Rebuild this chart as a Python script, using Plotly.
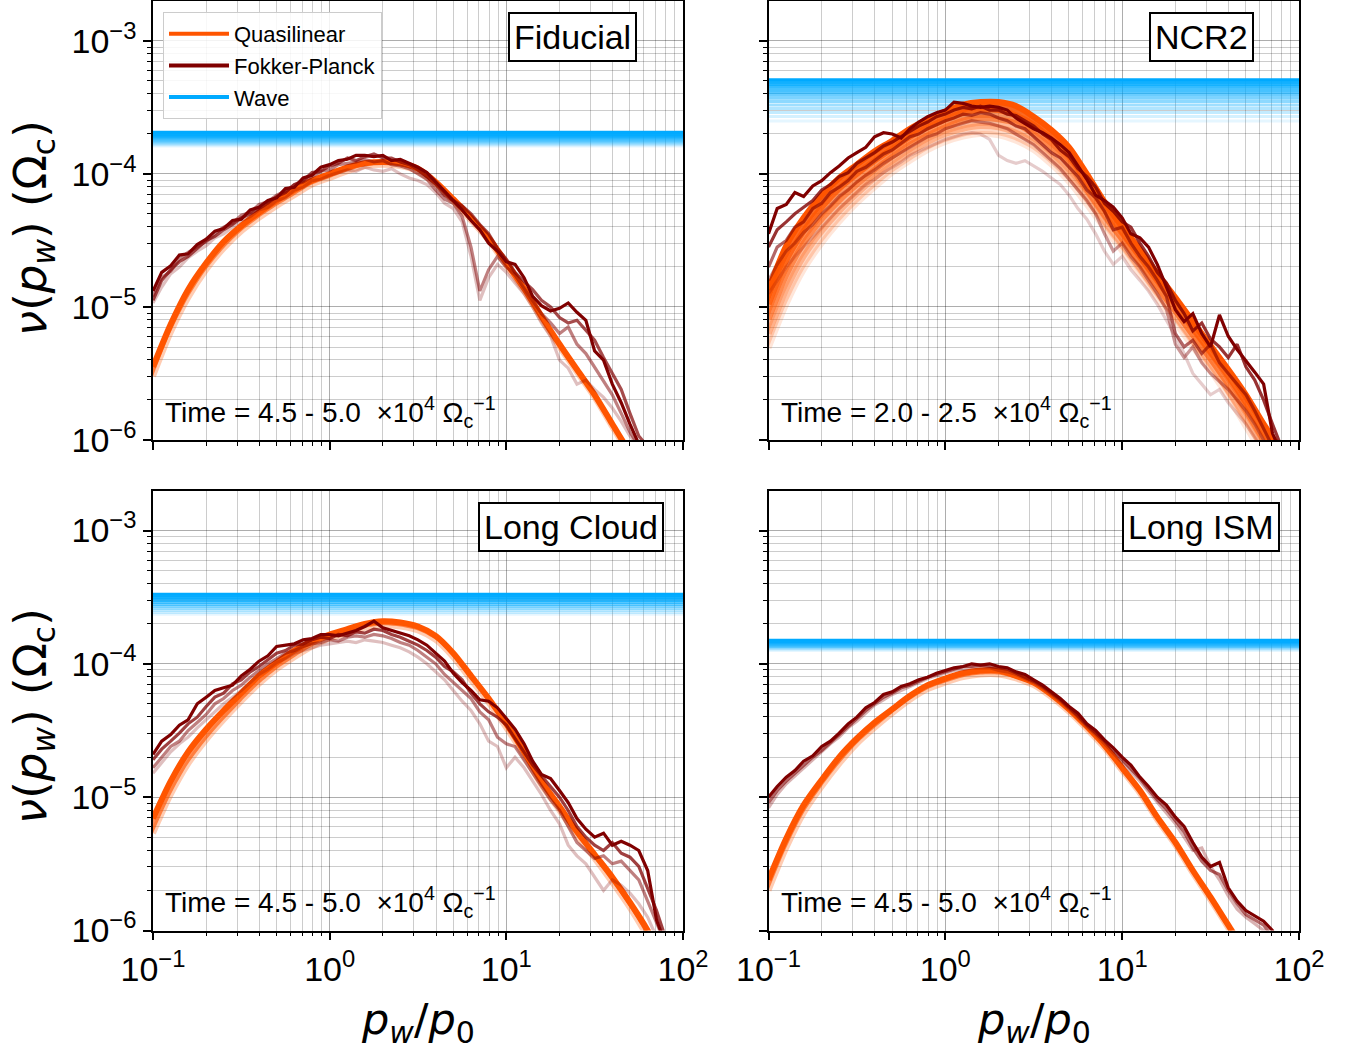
import plotly.graph_objects as go
from plotly.subplots import make_subplots

# ---------------- DATA ----------------
# momentum grids p_w / p_0
pw_ql = [0.1, 0.126, 0.158, 0.2, 0.251, 0.316, 0.398, 0.501, 0.631, 0.794,
         1.0, 1.26, 1.58, 2.0, 2.51, 3.16, 3.98, 5.01, 6.31, 7.94,
         10.0, 12.6, 15.8, 20.0, 25.1, 31.6, 39.8, 50.1, 63.1, 79.4, 100.0]
pw_fp = [0.1, 0.112, 0.126, 0.141, 0.158, 0.178, 0.2, 0.224, 0.251, 0.282,
         0.316, 0.355, 0.398, 0.447, 0.501, 0.562, 0.631, 0.708, 0.794, 0.891,
         1.0, 1.12, 1.26, 1.41, 1.58, 1.78, 2.0, 2.24, 2.51, 2.82,
         3.16, 3.55, 3.98, 4.47, 5.01, 5.62, 6.31, 7.08, 7.94, 8.91,
         10.0, 11.2, 12.6, 14.1, 15.8, 17.8, 20.0, 22.4, 25.1, 28.2,
         31.6, 35.5, 39.8, 44.7, 50.1, 56.2, 63.1, 70.8, 79.4, 89.1, 100.0]

# all curves: log10( nu / Omega_c )
# Quasilinear families, ordered lightest -> darkest
fid_ql = [
    [-5.52, -5.19, -4.93, -4.72, -4.56, -4.43, -4.33, -4.24, -4.16, -4.08, -4.03, -3.98, -3.94, -3.93, -3.94, -3.98,
     -4.08, -4.21, -4.35, -4.50, -4.69, -4.88, -5.09, -5.30, -5.49, -5.68, -5.90, -6.12, -6.37, -6.62, -6.87],
    [-5.45, -5.13, -4.87, -4.67, -4.51, -4.39, -4.29, -4.20, -4.12, -4.05, -4.00, -3.95, -3.92, -3.91, -3.92, -3.96,
     -4.06, -4.19, -4.33, -4.48, -4.67, -4.86, -5.07, -5.28, -5.47, -5.66, -5.88, -6.10, -6.35, -6.60, -6.85],
]
ncr_ql = [
    [-5.31, -4.98, -4.72, -4.52, -4.36, -4.22, -4.10, -3.99, -3.90, -3.82, -3.76, -3.72, -3.70, -3.71, -3.75, -3.82,
     -3.93, -4.06, -4.23, -4.41, -4.58, -4.76, -4.94, -5.12, -5.30, -5.48, -5.68, -5.90, -6.12, -6.35, -6.60],
    [-5.20, -4.87, -4.62, -4.43, -4.28, -4.15, -4.03, -3.93, -3.84, -3.76, -3.70, -3.66, -3.64, -3.65, -3.69, -3.76,
     -3.87, -4.00, -4.17, -4.36, -4.53, -4.71, -4.89, -5.07, -5.25, -5.43, -5.63, -5.84, -6.06, -6.30, -6.55],
    [-5.09, -4.76, -4.52, -4.34, -4.20, -4.08, -3.97, -3.87, -3.78, -3.71, -3.65, -3.60, -3.58, -3.59, -3.62, -3.70,
     -3.80, -3.93, -4.12, -4.31, -4.49, -4.67, -4.85, -5.03, -5.21, -5.39, -5.58, -5.78, -6.00, -6.20, -6.45],
    [-4.98, -4.65, -4.43, -4.25, -4.11, -4.00, -3.90, -3.81, -3.72, -3.65, -3.59, -3.54, -3.52, -3.52, -3.56, -3.63,
     -3.74, -3.87, -4.06, -4.26, -4.44, -4.62, -4.80, -4.98, -5.16, -5.34, -5.52, -5.72, -5.94, -6.14, -6.40],
    [-4.87, -4.54, -4.33, -4.16, -4.03, -3.93, -3.83, -3.75, -3.66, -3.59, -3.53, -3.48, -3.46, -3.46, -3.49, -3.57,
     -3.67, -3.80, -4.00, -4.21, -4.39, -4.57, -4.75, -4.93, -5.11, -5.29, -5.47, -5.66, -5.88, -6.08, -6.30],
]
lc_ql = [
    [-5.27, -4.98, -4.75, -4.57, -4.42, -4.28, -4.15, -4.04, -3.95, -3.87, -3.81, -3.77, -3.73, -3.71, -3.72, -3.75,
     -3.82, -3.95, -4.12, -4.29, -4.48, -4.69, -4.91, -5.10, -5.29, -5.46, -5.64, -5.83, -6.05, -6.30, -6.55],
    [-5.16, -4.88, -4.66, -4.49, -4.35, -4.22, -4.09, -3.99, -3.90, -3.83, -3.78, -3.74, -3.70, -3.68, -3.69, -3.72,
     -3.79, -3.92, -4.09, -4.26, -4.45, -4.66, -4.88, -5.07, -5.26, -5.43, -5.60, -5.79, -6.00, -6.25, -6.50],
]
ism_ql = [
    [-5.70, -5.38, -5.12, -4.92, -4.75, -4.60, -4.48, -4.37, -4.27, -4.19, -4.14, -4.10, -4.08, -4.08, -4.11, -4.16,
     -4.25, -4.36, -4.49, -4.63, -4.80, -4.97, -5.17, -5.36, -5.57, -5.77, -5.98, -6.20, -6.40, -6.60, -6.80],
    [-5.62, -5.31, -5.06, -4.87, -4.70, -4.56, -4.44, -4.34, -4.24, -4.16, -4.11, -4.07, -4.05, -4.05, -4.09, -4.14,
     -4.23, -4.34, -4.47, -4.61, -4.78, -4.95, -5.15, -5.34, -5.55, -5.75, -5.96, -6.17, -6.40, -6.60, -6.80],
]

# Fokker-Planck snapshots, ordered lightest -> darkest
N = None
fid_fp = [
    [-4.97, -4.85, -4.75, -4.70, -4.63, -4.58, -4.54, -4.48, -4.45, -4.40,
     -4.35, -4.32, -4.27, -4.25, -4.20, -4.18, -4.12, -4.10, -4.05, -4.04,
     -4.01, -3.99, -3.97, -3.98, -3.95, -3.97, -3.98, -3.96, -4.00, -4.03,
     -4.05, -4.08, -4.14, -4.22, -4.26, -4.36, -4.62, -4.95, -4.78, -4.68,
     -4.74, -4.82, -4.90, -5.00, -5.12, -5.22, -5.40, -5.46, -5.58, -5.55,
     -5.62, -5.68, -5.76, -5.86, -5.97, -6.05, -6.30, N, N, N, N],
    [-4.92, -4.78, -4.73, -4.64, -4.59, -4.55, -4.51, -4.45, -4.40, -4.37,
     -4.31, -4.29, -4.23, -4.21, -4.16, -4.13, -4.08, -4.06, -4.02, -3.98,
     -3.97, -3.93, -3.92, -3.91, -3.89, -3.91, -3.90, -3.93, -3.94, -3.96,
     -4.00, -4.04, -4.12, -4.19, -4.22, -4.32, -4.55, -4.88, -4.72, -4.62,
     -4.70, -4.76, -4.86, -4.95, -5.05, -5.12, -5.20, -5.15, -5.28, -5.35,
     -5.45, -5.55, -5.66, -5.80, -5.94, -6.05, -6.30, N, N, N, N],
    [-4.95, -4.80, -4.72, -4.66, -4.62, -4.56, -4.50, -4.47, -4.42, -4.38,
     -4.33, -4.30, -4.26, -4.22, -4.17, -4.14, -4.08, -4.05, -3.99, -3.98,
     -3.94, -3.92, -3.88, -3.90, -3.87, -3.85, -3.88, -3.88, -3.91, -3.93,
     -3.97, -4.02, -4.08, -4.16, -4.20, -4.24, -4.30, -4.38, -4.45, -4.56,
     -4.64, -4.74, -4.81, -4.87, -4.95, -5.00, -5.08, -5.12, -5.10, -5.18,
     -5.25, -5.38, -5.50, -5.62, -5.80, -5.97, -6.05, -6.30, N, N, N],
    [-4.88, -4.74, -4.69, -4.61, -4.60, -4.53, -4.49, -4.43, -4.41, -4.35,
     -4.34, -4.27, -4.25, -4.20, -4.18, -4.11, -4.10, -4.03, -4.01, -3.95,
     -3.93, -3.90, -3.89, -3.86, -3.86, -3.87, -3.86, -3.90, -3.89, -3.92,
     -3.95, -3.99, -4.06, -4.13, -4.20, -4.27, -4.35, -4.42, -4.52, -4.58,
     -4.66, -4.68, -4.78, -4.92, -4.99, -5.03, -5.01, -4.97, -5.04, -5.10,
     -5.33, -5.40, -5.58, -5.72, -5.88, -6.03, -6.30, N, N, N, N],
]
ncr_fp = [
    [-4.90, -4.80, -4.70, -4.62, -4.55, -4.48, -4.40, -4.33, -4.26, -4.20,
     -4.14, -4.08, -4.04, -3.99, -3.95, -3.91, -3.86, -3.83, -3.80, -3.77,
     -3.74, -3.72, -3.70, -3.69, -3.70, -3.74, -3.86, -3.90, -3.92, -3.90,
     -3.94, -3.98, -4.03, -4.08, -4.16, -4.26, -4.34, -4.45, -4.58, -4.68,
     -4.62, -4.72, -4.80, -4.88, -4.98, -5.10, -5.22, -5.35, -5.50, -5.58,
     -5.66, -5.62, -5.72, -5.80, -5.88, -5.98, -6.08, -6.30, N, N, N],
    [-4.80, -4.68, -4.58, -4.52, -4.44, -4.38, -4.30, -4.24, -4.17, -4.12,
     -4.06, -4.01, -3.97, -3.92, -3.88, -3.84, -3.80, -3.76, -3.72, -3.70,
     -3.66, -3.64, -3.62, -3.60, -3.61, -3.62, -3.64, -3.66, -3.70, -3.74,
     -3.78, -3.84, -3.90, -3.96, -4.04, -4.12, -4.20, -4.30, -4.45, -4.58,
     -4.52, -4.62, -4.70, -4.80, -4.90, -5.02, -5.28, -5.38, -5.30, -5.42,
     -5.50, -5.56, -5.62, -5.70, -5.78, -5.88, -6.00, -6.30, N, N, N],
    [-4.70, -4.55, -4.50, -4.40, -4.36, -4.26, -4.22, -4.14, -4.10, -4.05,
     -3.98, -3.95, -3.90, -3.85, -3.82, -3.77, -3.72, -3.70, -3.66, -3.63,
     -3.60, -3.58, -3.55, -3.56, -3.54, -3.55, -3.58, -3.60, -3.64, -3.66,
     -3.72, -3.78, -3.84, -3.88, -3.95, -4.02, -4.12, -4.18, -4.28, -4.42,
     -4.40, -4.52, -4.62, -4.70, -4.80, -4.92, -5.20, -5.30, -5.25, -5.35,
     -5.28, -5.42, -5.50, -5.58, -5.66, -5.78, -5.92, -6.05, -6.30, N, N],
    [-4.55, -4.42, -4.36, -4.30, -4.25, -4.20, -4.12, -4.08, -4.02, -3.99,
     -3.92, -3.88, -3.84, -3.79, -3.76, -3.72, -3.68, -3.64, -3.61, -3.57,
     -3.55, -3.52, -3.50, -3.51, -3.49, -3.52, -3.52, -3.55, -3.56, -3.60,
     -3.64, -3.70, -3.74, -3.82, -3.87, -3.96, -4.02, -4.10, -4.22, -4.28,
     -4.36, -4.40, -4.52, -4.62, -4.74, -4.82, -4.95, -5.05, -5.18, -5.12,
     -5.24, -5.30, -5.38, -5.28, -5.45, -5.55, -5.70, -5.88, -6.05, -6.40, N],
    [-4.45, -4.26, -4.23, -4.14, -4.17, -4.09, -4.05, -3.99, -3.94, -3.88,
     -3.84, -3.80, -3.72, -3.69, -3.70, -3.73, -3.66, -3.61, -3.57, -3.54,
     -3.52, -3.46, -3.47, -3.49, -3.50, -3.49, -3.50, -3.52, -3.58, -3.62,
     -3.66, -3.69, -3.73, -3.78, -3.84, -3.94, -4.04, -4.16, -4.20, -4.25,
     -4.33, -4.45, -4.48, -4.55, -4.68, -4.85, -5.02, -5.11, -5.05, -5.20,
     -5.30, -5.06, -5.22, -5.32, -5.40, -5.49, -5.58, -5.95, -6.10, -6.40, N],
]
lc_fp = [
    [-4.82, -4.74, -4.66, -4.60, -4.55, -4.48, -4.42, -4.36, -4.30, -4.25,
     -4.20, -4.14, -4.08, -4.04, -3.99, -3.96, -3.92, -3.90, -3.88, -3.86,
     -3.85, -3.84, -3.83, -3.84, -3.82, -3.83, -3.84, -3.86, -3.88, -3.91,
     -3.95, -4.00, -4.06, -4.12, -4.20, -4.28, -4.35, -4.45, -4.58, -4.62,
     -4.78, -4.70, -4.78, -4.88, -4.98, -5.10, -5.20, -5.36, -5.44, -5.50,
     -5.60, -5.70, -5.62, -5.66, -5.72, -5.80, -5.90, -6.05, -6.30, N, N],
    [-4.78, -4.70, -4.62, -4.58, -4.50, -4.44, -4.38, -4.30, -4.26, -4.20,
     -4.16, -4.10, -4.05, -4.00, -3.96, -3.92, -3.90, -3.87, -3.85, -3.84,
     -3.82, -3.83, -3.80, -3.79, -3.80, -3.78, -3.79, -3.81, -3.84, -3.86,
     -3.90, -3.95, -4.00, -4.08, -4.14, -4.20, -4.26, -4.36, -4.42, -4.55,
     -4.60, -4.62, -4.72, -4.82, -4.92, -5.02, -5.10, -5.22, -5.34, -5.40,
     -5.46, -5.44, -5.50, -5.48, -5.55, -5.62, -5.78, -5.95, -6.10, -6.40, N],
    [-4.72, -4.64, -4.58, -4.52, -4.45, -4.40, -4.32, -4.25, -4.22, -4.15,
     -4.12, -4.06, -4.02, -3.97, -3.92, -3.90, -3.86, -3.85, -3.82, -3.80,
     -3.81, -3.78, -3.79, -3.76, -3.77, -3.74, -3.75, -3.78, -3.80, -3.83,
     -3.86, -3.90, -3.95, -4.02, -4.06, -4.12, -4.22, -4.30, -4.36, -4.40,
     -4.46, -4.56, -4.66, -4.76, -4.84, -4.92, -5.00, -5.10, -5.22, -5.30,
     -5.36, -5.40, -5.34, -5.42, -5.45, -5.52, -5.68, -5.85, -6.05, -6.40, N],
    [-4.68, -4.58, -4.53, -4.46, -4.42, -4.30, -4.25, -4.20, -4.18, -4.16,
     -4.09, -4.04, -3.98, -3.94, -3.87, -3.86, -3.85, -3.82, -3.81, -3.78,
     -3.78, -3.79, -3.77, -3.75, -3.72, -3.68, -3.73, -3.75, -3.77, -3.79,
     -3.82, -3.86, -3.92, -3.98, -4.07, -4.14, -4.20, -4.27, -4.28, -4.33,
     -4.41, -4.49, -4.60, -4.73, -4.83, -4.86, -4.95, -5.04, -5.16, -5.24,
     -5.30, -5.27, -5.36, -5.33, -5.36, -5.40, -5.55, -5.92, -6.10, -6.40, N],
]
ism_fp = [
    [-5.08, -4.98, -4.90, -4.84, -4.78, -4.72, -4.66, -4.60, -4.55, -4.48,
     -4.43, -4.37, -4.31, -4.27, -4.23, -4.20, -4.17, -4.14, -4.11, -4.09,
     -4.07, -4.05, -4.04, -4.03, -4.03, -4.03, -4.05, -4.06, -4.08, -4.11,
     -4.14, -4.18, -4.23, -4.28, -4.34, -4.40, -4.47, -4.53, -4.60, -4.67,
     -4.74, -4.81, -4.88, -4.96, -5.04, -5.12, -5.20, -5.30, -5.40, -5.38,
     -5.52, -5.62, -5.74, -5.84, -5.90, -5.95, -6.00, -6.20, N, N, N],
    [-5.04, -4.95, -4.88, -4.82, -4.76, -4.70, -4.65, -4.59, -4.53, -4.47,
     -4.41, -4.35, -4.30, -4.25, -4.22, -4.18, -4.16, -4.13, -4.10, -4.08,
     -4.06, -4.04, -4.02, -4.02, -4.01, -4.02, -4.03, -4.04, -4.07, -4.10,
     -4.13, -4.17, -4.22, -4.27, -4.33, -4.39, -4.46, -4.52, -4.58, -4.65,
     -4.72, -4.79, -4.86, -4.94, -5.02, -5.09, -5.18, -5.26, -5.38, -5.48,
     -5.55, -5.58, -5.70, -5.80, -5.88, -5.92, -5.96, -6.05, -6.30, N, N],
    [-5.00, -4.92, -4.85, -4.80, -4.73, -4.69, -4.62, -4.58, -4.52, -4.45,
     -4.40, -4.33, -4.29, -4.23, -4.21, -4.17, -4.15, -4.12, -4.10, -4.07,
     -4.05, -4.03, -4.02, -4.00, -4.01, -4.00, -4.02, -4.03, -4.06, -4.08,
     -4.12, -4.16, -4.21, -4.26, -4.32, -4.37, -4.45, -4.50, -4.57, -4.63,
     -4.70, -4.76, -4.85, -4.92, -5.00, -5.06, -5.15, -5.22, -5.34, -5.45,
     -5.52, -5.49, -5.68, -5.78, -5.85, -5.89, -5.93, -6.00, -6.20, N, N],
]

# wave damping levels nu (Omega_c), darkest first
fid_wave = [2.06e-4, 2.02e-4, 1.98e-4, 1.94e-4, 1.90e-4, 1.86e-4, 1.82e-4, 1.78e-4, 1.74e-4, 1.70e-4, 1.66e-4, 1.62e-4]
ncr_wave = [5.10e-4, 4.90e-4, 4.70e-4, 4.50e-4, 4.30e-4, 4.10e-4, 3.90e-4, 3.70e-4, 3.50e-4, 3.30e-4, 3.10e-4,
            2.90e-4, 2.70e-4, 2.50e-4]
lc_wave = [3.33e-4, 3.24e-4, 3.15e-4, 3.06e-4, 2.97e-4, 2.88e-4, 2.79e-4, 2.70e-4, 2.61e-4, 2.52e-4, 2.43e-4, 2.35e-4]
ism_wave = [1.50e-4, 1.47e-4, 1.44e-4, 1.41e-4, 1.38e-4, 1.35e-4, 1.32e-4, 1.29e-4, 1.26e-4]

panel_names = ["Fiducial", "NCR2", "Long Cloud", "Long ISM"]
time_ranges = ["4.5 - 5.0", "2.0 - 2.5", "4.5 - 5.0", "4.5 - 5.0"]
series_names = ["Quasilinear", "Fokker-Planck", "Wave"]
x_tick_vals = [0.1, 1, 10, 100]
x_tick_text = ["10<sup>\u22121</sup>", "10<sup>0</sup>", "10<sup>1</sup>", "10<sup>2</sup>"]
y_tick_vals = [1e-6, 1e-5, 1e-4, 1e-3]
y_tick_text = ["10<sup>\u22126</sup>", "10<sup>\u22125</sup>", "10<sup>\u22124</sup>", "10<sup>\u22123</sup>"]

# ---------------- STYLE ----------------
QL_RGB = (255, 85, 0)
FP_RGB = (128, 0, 0)
WAVE_RGB = (0, 170, 255)
SANS = "Liberation Sans, Arial, sans-serif"
MATH = "DejaVu Sans, sans-serif"
W, H = 1349, 1049


def rgba(c, a):
    return f"rgba({c[0]},{c[1]},{c[2]},{a:.3f})"


def lin(v):
    return [None if t is None else 10 ** t for t in v]


panels = [
    (1, 1, fid_ql, [0.3, 1.0], fid_fp, [0.25, 0.5, 0.7, 1.0], fid_wave),
    (1, 2, ncr_ql, [0.15, 0.3, 0.5, 0.75, 1.0], ncr_fp, [0.2, 0.4, 0.6, 0.8, 1.0], ncr_wave),
    (2, 1, lc_ql, [0.3, 1.0], lc_fp, [0.25, 0.5, 0.75, 1.0], lc_wave),
    (2, 2, ism_ql, [0.3, 1.0], ism_fp, [0.3, 0.6, 1.0], ism_wave),
]

fig = make_subplots(rows=2, cols=2)

for (r, c, ql, ql_a, fp, fp_a, wave) in panels:
    n = len(wave)
    for i, v in enumerate(wave):
        a = 1.0 - 0.9 * i / (n - 1)
        fig.add_trace(go.Scatter(x=[pw_fp[0], pw_fp[-1]], y=[v, v], mode="lines",
                                 line=dict(color=rgba(WAVE_RGB, a), width=3),
                                 showlegend=False, hoverinfo="skip"), row=r, col=c)
    for k, curve in enumerate(ql):
        kw = {}
        if k > 0:
            kw = dict(fill="tonexty", fillcolor=rgba(QL_RGB, 0.5 * (ql_a[k] + ql_a[k - 1])))
        fig.add_trace(go.Scatter(x=pw_ql, y=lin(curve), mode="lines",
                                 line=dict(color=rgba(QL_RGB, ql_a[k]), width=6, shape="spline", smoothing=0.8),
                                 showlegend=False, hoverinfo="skip", **kw), row=r, col=c)
    for k, curve in enumerate(fp):
        fig.add_trace(go.Scatter(x=pw_fp, y=lin(curve), mode="lines",
                                 line=dict(color=rgba(FP_RGB, fp_a[k]), width=3.2),
                                 showlegend=False, hoverinfo="skip"), row=r, col=c)

# legend entries
for name, col in zip(series_names, [QL_RGB, FP_RGB, WAVE_RGB]):
    fig.add_trace(go.Scatter(x=[None], y=[None], mode="lines", name=name,
                             line=dict(color=rgba(col, 1), width=4)), row=1, col=1)

xdom = {1: [153 / W, 683 / W], 2: [768.5 / W, 1299 / W]}
ydom = {1: [1 - 440 / H, 1 - 1 / H], 2: [1 - 930.5 / H, 1 - 490.5 / H]}
minor_x = [m * 10 ** e for e in (-1, 0, 1) for m in range(2, 10)]
minor_y = [m * 10 ** e for e in (-6, -5, -4, -3) for m in range(2, 10)]

for idx, (r, c) in enumerate([(1, 1), (1, 2), (2, 1), (2, 2)]):
    common = dict(type="log", showline=True, linecolor="black", linewidth=1.5, mirror=True,
                  ticks="outside", ticklen=8, tickwidth=1.5, tickcolor="black",
                  showgrid=True, gridcolor="rgba(0,0,0,0.32)", gridwidth=1,
                  tickfont=dict(family=SANS, size=34, color="black"), zeroline=False,
                  automargin=False)
    fig.update_xaxes(range=[-1, 2], domain=xdom[c], tickvals=x_tick_vals, ticktext=x_tick_text,
                     showticklabels=(r == 2),
                     minor=dict(tickvals=minor_x, ticks="outside", ticklen=4, tickwidth=1,
                                tickcolor="black", showgrid=True, gridcolor="rgba(0,0,0,0.2)", gridwidth=1),
                     row=r, col=c, **common)
    fig.update_yaxes(range=[-6, -2.7], domain=ydom[r], tickvals=y_tick_vals, ticktext=y_tick_text,
                     showticklabels=(c == 1),
                     minor=dict(tickvals=minor_y, ticks="outside", ticklen=4, tickwidth=1,
                                tickcolor="black", showgrid=True, gridcolor="rgba(0,0,0,0.2)", gridwidth=1),
                     row=r, col=c, **common)

ann = []
label_pos = [(637, 12), (1254, 12), (664, 502), (1280, 502)]
time_pos = [(163, 434), (779, 434), (163, 924), (779, 924)]
for name, (px, py) in zip(panel_names, label_pos):
    ann.append(dict(text=name, x=px / W, y=1 - py / H, xref="paper", yref="paper",
                    xanchor="right", yanchor="top", showarrow=False,
                    font=dict(family=SANS, size=34, color="black"),
                    bordercolor="black", borderwidth=2, borderpad=4, bgcolor="white"))
for tr, (px, py) in zip(time_ranges, time_pos):
    ann.append(dict(text=f"Time = {tr}  \u00d710<sup>4</sup> \u03a9<sub>c</sub><sup>\u22121</sup>",
                    x=px / W, y=1 - py / H, xref="paper", yref="paper",
                    xanchor="left", yanchor="bottom", showarrow=False,
                    font=dict(family=SANS, size=28, color="black")))
for cy in (228, 716):
    ann.append(dict(text="<i>\u03bd</i>(<i>p<sub>w</sub></i>) (\u03a9<sub>c</sub>)", textangle=-90,
                    x=33 / W, y=1 - cy / H, xref="paper", yref="paper",
                    xanchor="center", yanchor="middle", showarrow=False,
                    font=dict(family=MATH, size=45, color="black")))
for cx in (418, 1034):
    ann.append(dict(text="<i>p<sub>w</sub></i>/<i>p</i><sub>0</sub>",
                    x=cx / W, y=1 - 1022 / H, xref="paper", yref="paper",
                    xanchor="center", yanchor="middle", showarrow=False,
                    font=dict(family=MATH, size=43, color="black")))

fig.update_layout(
    width=W, height=H, margin=dict(l=0, r=0, t=0, b=0, autoexpand=False),
    paper_bgcolor="white", plot_bgcolor="white",
    annotations=ann,
    legend=dict(x=163 / W, y=1 - 12 / H, xanchor="left", yanchor="top", traceorder="normal",
                bgcolor="rgba(255,255,255,0.85)", bordercolor="#cccccc", borderwidth=1,
                font=dict(family=SANS, size=22, color="black"), itemwidth=60,
                tracegroupgap=0),
    showlegend=True,
)

fig.write_html("out.html")
